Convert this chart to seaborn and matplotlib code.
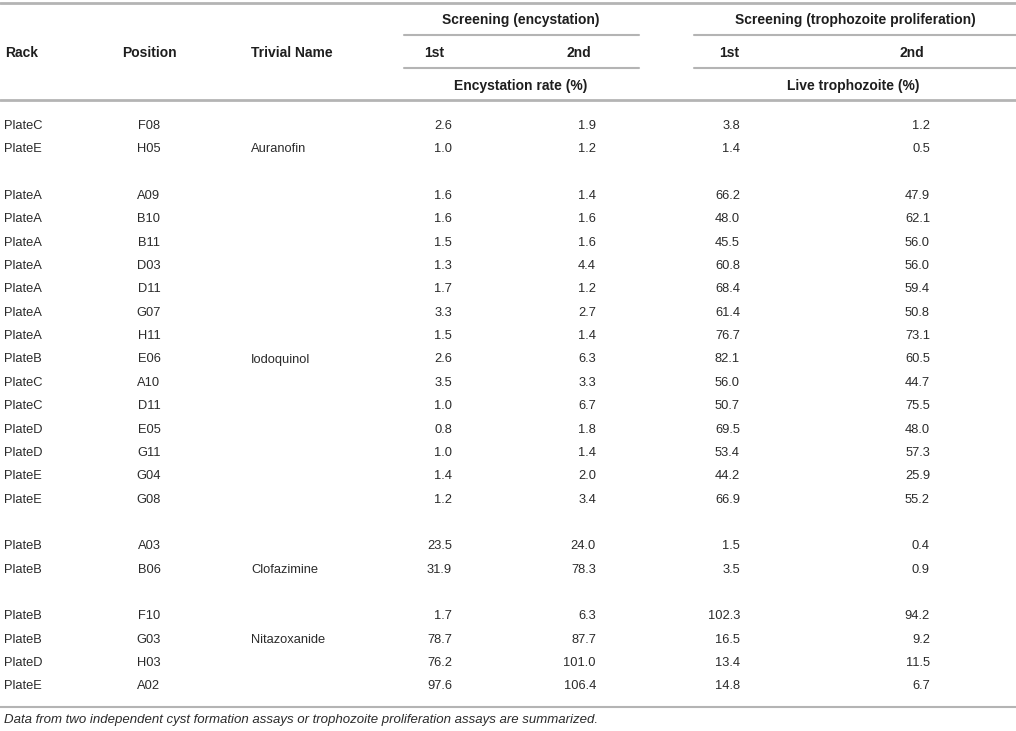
import numpy as np
import pandas as pd
import matplotlib.pyplot as plt
import seaborn as sns

# table data
rack = ["PlateC", "PlateE",
        "PlateA", "PlateA", "PlateA", "PlateA", "PlateA", "PlateA", "PlateA",
        "PlateB", "PlateC", "PlateC", "PlateD", "PlateD", "PlateE", "PlateE",
        "PlateB", "PlateB",
        "PlateB", "PlateB", "PlateD", "PlateE"]
position = ["F08", "H05",
            "A09", "B10", "B11", "D03", "D11", "G07", "H11",
            "E06", "A10", "D11", "E05", "G11", "G04", "G08",
            "A03", "B06",
            "F10", "G03", "H03", "A02"]
trivial = ["", "Auranofin",
           "", "", "", "", "", "", "", "Iodoquinol", "", "", "", "", "", "",
           "", "Clofazimine",
           "", "Nitazoxanide", "", ""]
group = [0, 0] + [1] * 14 + [2, 2] + [3] * 4
enc_1st = [2.6, 1.0, 1.6, 1.6, 1.5, 1.3, 1.7, 3.3, 1.5, 2.6, 3.5, 1.0, 0.8, 1.0, 1.4, 1.2,
           23.5, 31.9, 1.7, 78.7, 76.2, 97.6]
enc_2nd = [1.9, 1.2, 1.4, 1.6, 1.6, 4.4, 1.2, 2.7, 1.4, 6.3, 3.3, 6.7, 1.8, 1.4, 2.0, 3.4,
           24.0, 78.3, 6.3, 87.7, 101.0, 106.4]
tro_1st = [3.8, 1.4, 66.2, 48.0, 45.5, 60.8, 68.4, 61.4, 76.7, 82.1, 56.0, 50.7, 69.5, 53.4,
           44.2, 66.9, 1.5, 3.5, 102.3, 16.5, 13.4, 14.8]
tro_2nd = [1.2, 0.5, 47.9, 62.1, 56.0, 56.0, 59.4, 50.8, 73.1, 60.5, 44.7, 75.5, 48.0, 57.3,
           25.9, 55.2, 0.4, 0.9, 94.2, 9.2, 11.5, 6.7]

df = pd.DataFrame({"Rack": rack, "Position": position, "Trivial Name": trivial,
                   "group": group, "enc1": enc_1st, "enc2": enc_2nd,
                   "tro1": tro_1st, "tro2": tro_2nd})

sns.set_theme(style="white")
plt.rcParams["font.family"] = ["Liberation Sans", "DejaVu Sans"]

txt = "#1e1e1e"
body_c = "#2b2b2b"
line_c = "#b4b4b4"
fs_head = 10
fs_body = 9.3

fig = plt.figure(figsize=(10.16, 7.31), dpi=100)
ax = fig.add_axes([0, 0, 1, 1])
ax.set_xlim(0, 1016)
ax.set_ylim(731, 0)
ax.axis("off")

# header
hdr = dict(fontsize=fs_head, fontweight="bold", color=txt, va="center")
ax.text(521, 20, "Screening (encystation)", ha="center", **hdr)
ax.text(855, 20, "Screening (trophozoite proliferation)", ha="center", **hdr)
ax.text(5, 53, "Rack", ha="left", **hdr)
ax.text(149, 53, "Position", ha="center", **hdr)
ax.text(251, 53, "Trivial Name", ha="left", **hdr)
ax.text(424, 53, "1st", ha="left", **hdr)
ax.text(591, 53, "2nd", ha="right", **hdr)
ax.text(719, 53, "1st", ha="left", **hdr)
ax.text(924, 53, "2nd", ha="right", **hdr)
ax.text(521, 86, "Encystation rate (%)", ha="center", **hdr)
ax.text(853, 86, "Live trophozoite (%)", ha="center", **hdr)

ax.plot([0, 1016], [3, 3], color=line_c, lw=2)
for yy in (35, 68):
    ax.plot([404, 639], [yy, yy], color=line_c, lw=1.5)
    ax.plot([694, 1016], [yy, yy], color=line_c, lw=1.5)
ax.plot([0, 1016], [100, 100], color=line_c, lw=2)

# body rows
body = dict(fontsize=fs_body, color=body_c, va="center")
for i, r in df.iterrows():
    y = 126 + 23.35 * (i + r["group"])
    ax.text(4, y, r["Rack"], ha="left", **body)
    ax.text(149, y, r["Position"], ha="center", **body)
    ax.text(251, y, r["Trivial Name"], ha="left", **body)
    ax.text(452, y, f"{r['enc1']:.1f}", ha="right", **body)
    ax.text(596, y, f"{r['enc2']:.1f}", ha="right", **body)
    ax.text(740, y, f"{r['tro1']:.1f}", ha="right", **body)
    ax.text(930, y, f"{r['tro2']:.1f}", ha="right", **body)

ax.plot([0, 1016], [707, 707], color=line_c, lw=1.5)
ax.text(4, 720, "Data from two independent cyst formation assays or trophozoite "
        "proliferation assays are summarized.", ha="left", va="center",
        fontsize=9.5, style="italic", color=body_c)

fig.savefig("out.png", dpi=100)
